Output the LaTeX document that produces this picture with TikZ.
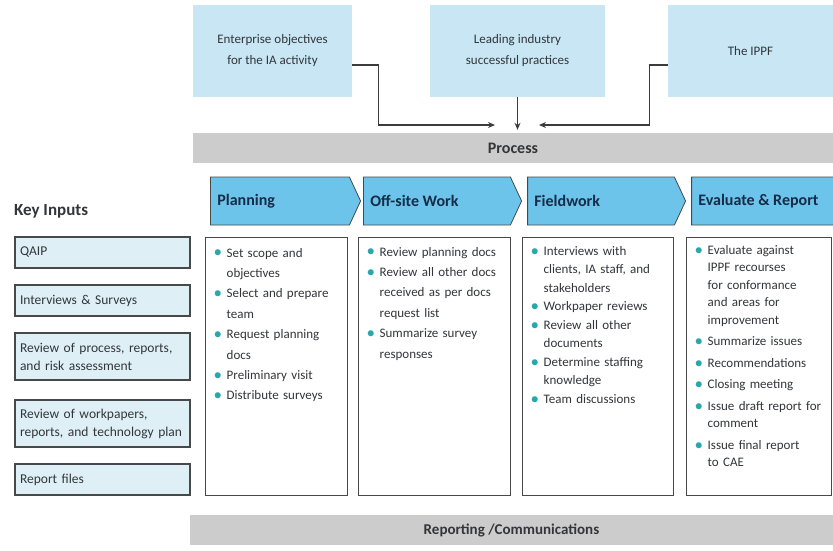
\documentclass[tikz,border=0pt]{standalone}
\usepackage{fontspec}
\setmainfont{Carlito}
\usepackage{tikz}
\usetikzlibrary{arrows.meta}
\usetikzlibrary{positioning}
\usetikzlibrary{shapes.symbols}
\usetikzlibrary{calc}
\definecolor{topblue}{RGB}{200,230,244}
\definecolor{chevblue}{RGB}{108,196,234}
\definecolor{inputfill}{RGB}{222,240,246}
\definecolor{bargray}{RGB}{204,204,204}
\definecolor{edgegray}{RGB}{70,72,74}
\definecolor{txtgray}{RGB}{50,54,58}
\definecolor{navy}{RGB}{22,44,72}
\definecolor{dotteal}{RGB}{40,168,170}
\definecolor{arrowgray}{RGB}{60,60,60}
\tikzstyle{source}=[fill=topblue,minimum height=92pt,inner sep=2pt,align=center,font=\fontsize{13}{21}\selectfont,text=txtgray]
\tikzstyle{bar}=[fill=bargray,minimum height=30pt,inner sep=0pt,font=\bfseries\fontsize{15}{17}\selectfont,text=txtgray]
\tikzstyle{input}=[draw=edgegray,line width=1.2pt,fill=inputfill,inner xsep=5pt,text width=165pt,align=left,font=\fontsize{13.5}{18}\selectfont,text=txtgray]
\tikzstyle{chev}=[signal,signal to=east,signal pointer angle=130,draw=edgegray,line width=0.8pt,fill=chevblue,minimum height=48pt,inner sep=0pt]
\tikzstyle{chevtext}=[anchor=west,inner sep=0pt,font=\bfseries\fontsize{16}{18}\selectfont,text=navy]
\tikzstyle{stage}=[draw=edgegray,line width=1pt,fill=white,minimum height=258pt,inner sep=0pt]
\tikzstyle{list}=[anchor=north west,inner sep=0pt,align=left,text=txtgray]
\tikzstyle{feed}=[draw=arrowgray,line width=1.1pt,-{Stealth[length=7pt,width=6pt]}]
\newcommand{\itm}[1]{\par\noindent\hangindent=13pt\hangafter=1\makebox[13pt][l]{\textcolor{dotteal}{\fontsize{17}{17}\selectfont\raisebox{-0.8pt}{\textbullet}}}#1}

\begin{document}
\begin{tikzpicture}[x=1pt,y=-1pt]
\useasboundingbox (0,0) rectangle (833,550);
% sources
\node [source,minimum width=159pt] (ent) at (272.5,51) {Enterprise objectives\\for the IA activity};
\node [source,minimum width=175pt] (lead) at (517.5,51) {Leading industry\\successful practices};
\node [source,minimum width=165pt] (ippf) at (750.5,51) {The IPPF};
\node [bar,minimum width=640pt,font=\bfseries\fontsize{16}{18}\selectfont] (proc) at (513,148) {Process};
\coordinate (join) at (517,125);
\draw [feed] ([yshift=-14pt]ent.east) -- ++(26,0) |- ([xshift=-22pt]join);
\draw [feed,shorten >=3pt] (lead.south) -- (lead.south |- proc.north);
\draw [feed] ([yshift=-14pt]ippf.west) -- ++(-18,0) |- ([xshift=22pt]join);

% key inputs
\node [anchor=west,inner sep=0pt,font=\bfseries\fontsize{17}{19}\selectfont,text=txtgray] (key) at (14,211) {Key Inputs};
\node [input,minimum height=31pt] (in1) at (102.5,252.5) {QAIP};
\node [input,minimum height=31pt] (in2) at (102.5,300.5) {Interviews \& Surveys};
\node [input,minimum height=47pt] (in3) at (102.5,356.5) {Review of process, reports,\\and risk assessment};
\node [input,minimum height=47pt] (in4) at (102.5,423.5) {Review of workpapers,\\reports, and technology plan};
\node [input,minimum height=31pt] (in5) at (102.5,479.5) {Report files};

% stages
\node [chev,minimum width=150pt] (c1) at (280,201) {};
\node [chev,minimum width=158pt] (c2) at (437,201) {};
\node [chev,minimum width=158pt] (c3) at (601,201) {};
\node [chev,minimum width=156pt] (c4) at (764,201) {};
\node [chevtext] at ([xshift=7pt]c1.west) {Planning};
\node [chevtext] at ([xshift=7pt]c2.west) {Off-site Work};
\node [chevtext] at ([xshift=7pt]c3.west) {Fieldwork};
\node [chevtext] at ([xshift=7pt]c4.west) {Evaluate \& Report};

\node [stage,minimum width=142pt] (s1) at (276,366) {};
\node [stage,minimum width=152pt] (s2) at (434,366) {};
\node [stage,minimum width=151pt] (s3) at (597.5,366) {};
\node [stage,minimum width=145pt] (s4) at (758.5,366) {};

\node [list,text width=134pt,font=\fontsize{13}{20.4}\selectfont] at ([xshift=9pt,yshift=0pt]s1.north west) {%
\itm{Set scope and\newline objectives}
\itm{Select and prepare\newline team}
\itm{Request planning\newline docs}
\itm{Preliminary visit}
\itm{Distribute surveys}\par};
\node [list,text width=144pt,font=\fontsize{13}{20.4}\selectfont] at ([xshift=9pt,yshift=1pt]s2.north west) {%
\itm{Review planning docs}
\itm{Review all other docs\newline received as per docs\newline request list}
\itm{Summarize survey\newline responses}\par};
\node [list,text width=143pt,font=\fontsize{13}{18.5}\selectfont] at ([xshift=9pt,yshift=0pt]s3.north west) {%
\itm{Interviews with\newline clients, IA staff, and\newline stakeholders}
\itm{Workpaper reviews}
\itm{Review all other\newline documents}
\itm{Determine staffing\newline knowledge}
\itm{Team discussions}\par};
\node [list,text width=140pt,font=\fontsize{13}{17.5}\selectfont] at ([xshift=9pt,yshift=4pt]s4.north west) {%
\setlength{\parskip}{4pt}%
\itm{Evaluate against\newline IPPF recourses\newline for conformance\newline and areas for\newline improvement}
\itm{Summarize issues}
\itm{Recommendations}
\itm{Closing meeting}
\itm{Issue draft report for\newline comment}
\itm{Issue final report\newline to CAE}\par};

\node [bar,minimum width=643pt] (rep) at (511.5,530) {Reporting /Communications};
\end{tikzpicture}
\end{document}
